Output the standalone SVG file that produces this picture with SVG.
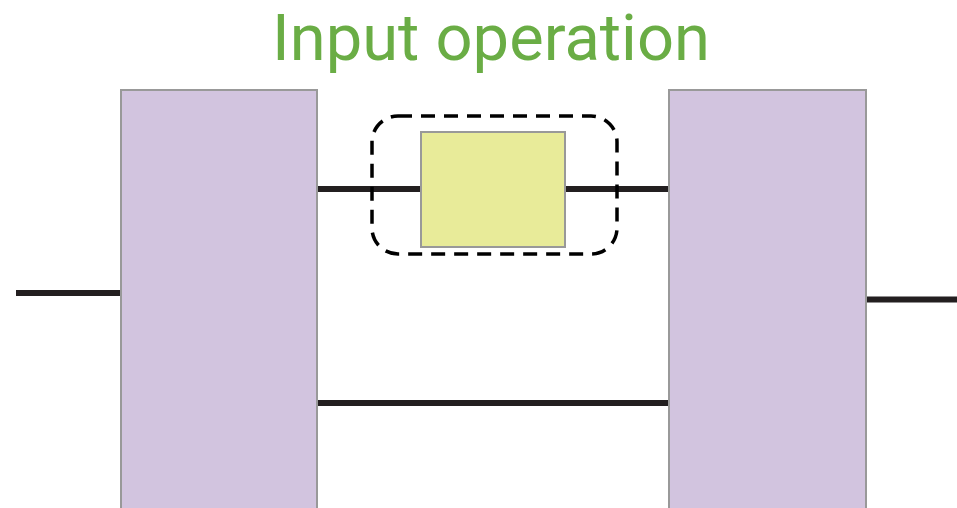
<svg xmlns="http://www.w3.org/2000/svg" width="957" height="508" viewBox="0 0 957 508">
  <style>
    .block { fill: #d2c4df; stroke: #999999; stroke-width: 2; }
    .op { fill: #e8eb99; stroke: #999999; stroke-width: 2; }
    .wire { stroke: #231f20; stroke-width: 6; fill: none; }
    .frame { fill: none; stroke: #000000; stroke-width: 3.5; stroke-dasharray: 14 9; }
    .title { font-family: Roboto, "Liberation Sans", sans-serif; font-size: 64px; font-weight: 400; fill: #6aad45; }
  </style>
  <rect width="957" height="508" fill="#ffffff"/>
  <g id="connectors">
    <line class="wire" x1="16" y1="293" x2="121" y2="293"/>
    <line class="wire" x1="317" y1="189" x2="421" y2="189"/>
    <line class="wire" x1="565" y1="189" x2="669" y2="189"/>
    <line class="wire" x1="317" y1="403" x2="669" y2="403"/>
    <line class="wire" x1="866" y1="299.5" x2="957" y2="299.5"/>
  </g>
  <g id="left-block">
    <rect class="block" x="121" y="90" width="196" height="430"/>
  </g>
  <g id="right-block">
    <rect class="block" x="669" y="90" width="197" height="430"/>
  </g>
  <g id="input-frame">
    <rect class="frame" x="372" y="116" width="245" height="138" rx="26" ry="26"/>
  </g>
  <g id="input-op">
    <rect class="op" x="421" y="132" width="144" height="115"/>
  </g>
  <g id="title">
    <text class="title" x="491" y="60" text-anchor="middle" textLength="438" lengthAdjust="spacingAndGlyphs">Input operation</text>
  </g>
</svg>
